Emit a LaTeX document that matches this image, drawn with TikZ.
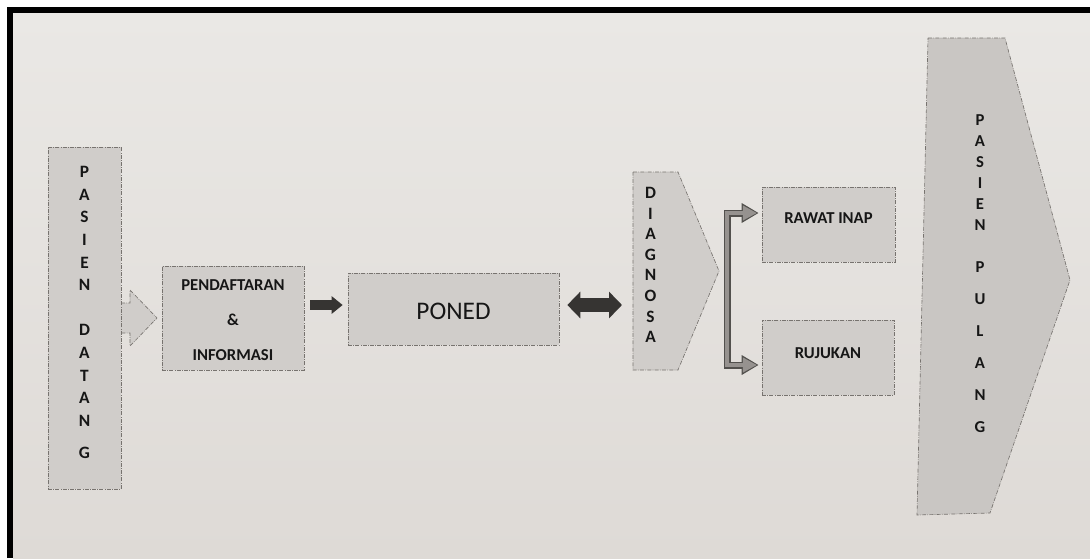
\documentclass[tikz,border=0pt]{standalone}
\usepackage{fontspec}
\setmainfont{Carlito}
\usetikzlibrary{arrows.meta,calc}
\definecolor{bgtop}{HTML}{EAE8E5}
\definecolor{bgbot}{HTML}{DEDAD6}
\definecolor{shp}{HTML}{D0CDCA}
\definecolor{shpd}{HTML}{C9C6C3}
\definecolor{edge}{HTML}{77736F}
\definecolor{ink}{HTML}{161616}
\definecolor{dark}{HTML}{363432}
\definecolor{brkc}{HTML}{96928F}
\definecolor{brko}{HTML}{52504D}
\begin{document}
\begin{tikzpicture}[x=0.75pt,y=-0.75pt,
  shp/.style={fill=shp, draw=edge, line width=0.5pt, densely dashdotted},
  box/.style={shp, rectangle, inner sep=0pt},
  lbl/.style={font=\fontsize{12.5}{14}\selectfont\bfseries, text=ink, inner sep=0pt},
  colA/.style={font=\fontsize{13}{17}\selectfont\bfseries, text=ink, inner sep=0pt, align=center, anchor=north},
  colB/.style={font=\fontsize{13}{15.45}\selectfont\bfseries, text=ink, inner sep=0pt, align=center, anchor=north},
  colC/.style={font=\fontsize{12.5}{15.75}\selectfont\bfseries, text=ink, inner sep=0pt, align=center, anchor=north},
  blkA/.style={draw=dark, line width=7.5pt, -{Triangle[length=8.25pt, width=12.75pt]}},
  blkB/.style={draw=dark, line width=11pt, {Triangle[length=9.75pt, width=19.5pt]}-{Triangle[length=9.75pt, width=19.5pt]}},
  brkO/.style={draw=brko, line width=5.25pt, line join=miter, {Triangle[length=12.75pt, width=14pt]}-{Triangle[length=12.75pt, width=14pt]}},
  brkI/.style={draw=brkc, line width=2.8pt, line join=miter, shorten <=1.3pt, shorten >=1.3pt, {Triangle[length=10.5pt, width=10.5pt]}-{Triangle[length=10.5pt, width=10.5pt]}}
]
\useasboundingbox (0,0) rectangle (1090,558);
% background and frame
\fill[white] (0,0) rectangle (1090,558);
\shade[top color=bgtop, bottom color=bgbot] (13,13) rectangle (1090,558);
\draw[black, line width=4.5pt] (10,558) -- (10,10) -- (1090,10);

% PASIEN DATANG with arrow tab
\draw[shp] (121,303) -- (130,303) -- (130,290) -- (157,318) -- (130,346) -- (130,333) -- (121,333);
\node[box, minimum width=54.75pt, minimum height=256.5pt] (datang) at (84.5,318) {};
\node[colA] (datangtxt) at (84.5,166) {P\\A\\S\\I\\E\\N\\[16.8pt]D\\A\\T\\A\\N\\[7pt]G};

% PENDAFTARAN & INFORMASI
\node[box, minimum width=106.5pt, minimum height=78pt] (pend) at (233,318) {};
\node[lbl, align=center, font=\fontsize{12.5}{26.25}\selectfont\bfseries] (pendtxt) at (233,320) {PENDAFTARAN\\\&\\INFORMASI};

% PONED
\node[box, minimum width=158.25pt, minimum height=54pt] (poned) at (453.5,309) {};
\node[inner sep=0pt, text=ink, font=\fontsize{19}{22}\selectfont] (ponedtxt) at (453.5,311) {PONED};

% DIAGNOSA
\coordinate (dgw) at (633,271);
\coordinate (dgtip) at (719,271);
\draw[shp] (633,172) -- (678,172) -- (dgtip) -- (678,370) -- (633,370) -- cycle;
\node[colB] (diagtxt) at (650.5,187) {D\\I\\A\\G\\N\\O\\S\\A};

% RAWAT INAP, RUJUKAN
\node[box, minimum width=99.75pt, minimum height=56.25pt] (rawat) at (828.5,224.5) {};
\node[lbl] (rawattxt) at (828.5,218) {RAWAT INAP};
\node[box, minimum width=99pt, minimum height=56.25pt] (rujukan) at (828,357.5) {};
\node[lbl] (rujukantxt) at (828,353) {RUJUKAN};

% PASIEN PULANG
\draw[shp, fill=shpd] (928,38) -- (1005,38) -- (1070,280) -- (990,513) -- (917,515) -- cycle;
\node[colC] (pulangtxt) at (980,114) {P\\A\\S\\I\\E\\N\\[15.75pt]P\\[8.25pt]U\\[8.25pt]L\\[8.25pt]A\\[8.25pt]N\\[8.25pt]G};

% connectors
\coordinate (ay) at (0,305);
\draw[blkA] ([xshift=4.5pt]pend.east |- ay) -- ([xshift=-3.75pt]poned.west |- ay);
\draw[blkB] ([xshift=6pt]poned.east |- ay) -- ([xshift=-8.25pt]dgw |- ay);

\coordinate (bt) at (727,213);
\coordinate (bb) at (727,365);
\draw[brkO] ($(rawat.west |- bt)+(-3,0)$) -- (bt) -- (bb) -- ($(rujukan.west |- bb)+(-3,0)$);
\draw[brkI] ($(rawat.west |- bt)+(-3,0)$) -- (bt) -- (bb) -- ($(rujukan.west |- bb)+(-3,0)$);
\end{tikzpicture}
\end{document}
